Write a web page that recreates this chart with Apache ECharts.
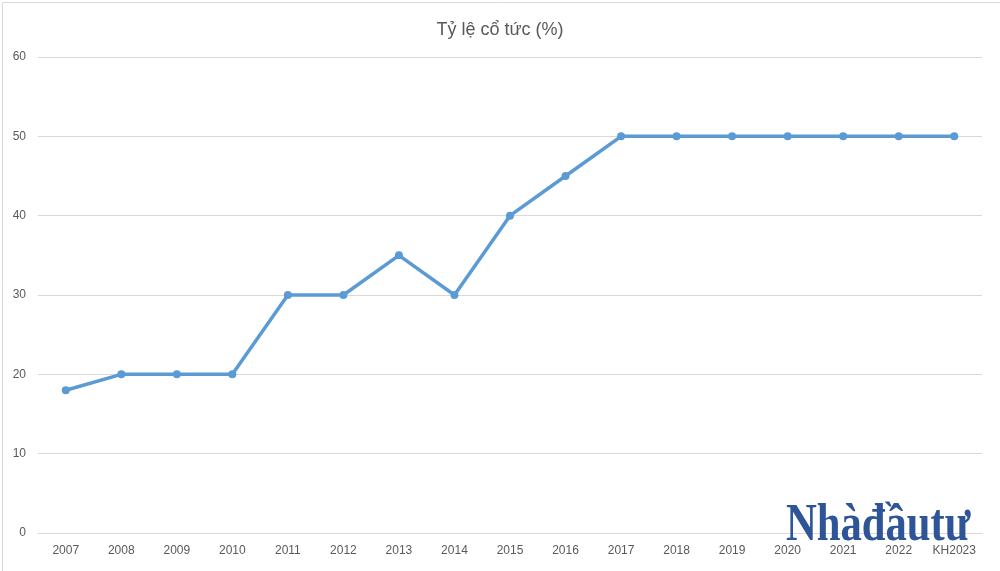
<!DOCTYPE html>
<html>
<head>
<meta charset="utf-8">
<script src="https://cdn.jsdelivr.net/npm/echarts@6/dist/echarts.min.js"></script>
<style>
html,body{margin:0;padding:0;background:#fff;}
#chart{width:1000px;height:571px;}
</style>
</head>
<body>
<div id="chart"></div>
<script>
var categories = ['2007','2008','2009','2010','2011','2012','2013','2014','2015','2016','2017','2018','2019','2020','2021','2022','KH2023'];
var dividendRate = [18,20,20,20,30,30,35,30,40,45,50,50,50,50,50,50,50];
var chartTitle = 'Tỷ lệ cổ tức (%)';
var watermark = 'Nhàđầutư';

var chart = echarts.init(document.getElementById('chart'));
chart.setOption({
  backgroundColor: '#ffffff',
  animation: false,
  title: {
    text: chartTitle,
    left: 'center',
    top: 16,
    textStyle: {fontFamily: 'Liberation Sans', fontSize: 18, fontWeight: 'normal', color: '#595959'}
  },
  grid: {left: 38, right: 18, top: 57, bottom: 38},
  xAxis: {
    type: 'category',
    data: categories,
    boundaryGap: true,
    axisLine: {show: true, lineStyle: {color: '#d9d9d9', width: 1}},
    axisTick: {show: false},
    axisLabel: {color: '#595959', fontFamily: 'Liberation Sans', fontSize: 12, margin: 12, interval: 0}
  },
  yAxis: {
    type: 'value',
    min: 0, max: 60, interval: 10,
    axisLine: {show: false},
    axisTick: {show: false},
    splitLine: {lineStyle: {color: '#d9d9d9', width: 1}},
    axisLabel: {color: '#595959', fontFamily: 'Liberation Sans', fontSize: 12, margin: 12}
  },
  series: [{
    type: 'line',
    data: dividendRate,
    symbol: 'circle',
    symbolSize: 8,
    lineStyle: {color: '#5b9bd5', width: 3.5},
    itemStyle: {color: '#5b9bd5'}
  }],
  graphic: [
    {type: 'rect', left: 0, top: 0, z: 100, silent: true,
     shape: {x: 0.5, y: 0.5, width: 999, height: 570},
     style: {fill: 'none', stroke: '#d9d9d9', lineWidth: 1}},
    {type: 'text', x: 786, y: 500, z: 50, scaleX: 0.82, scaleY: 1.02,
     style: {text: watermark, fill: '#2e5597', fontFamily: 'Liberation Serif', fontWeight: 'bold', fontSize: 52, textVerticalAlign: 'top'}}
  ]
});
</script>
</body>
</html>
